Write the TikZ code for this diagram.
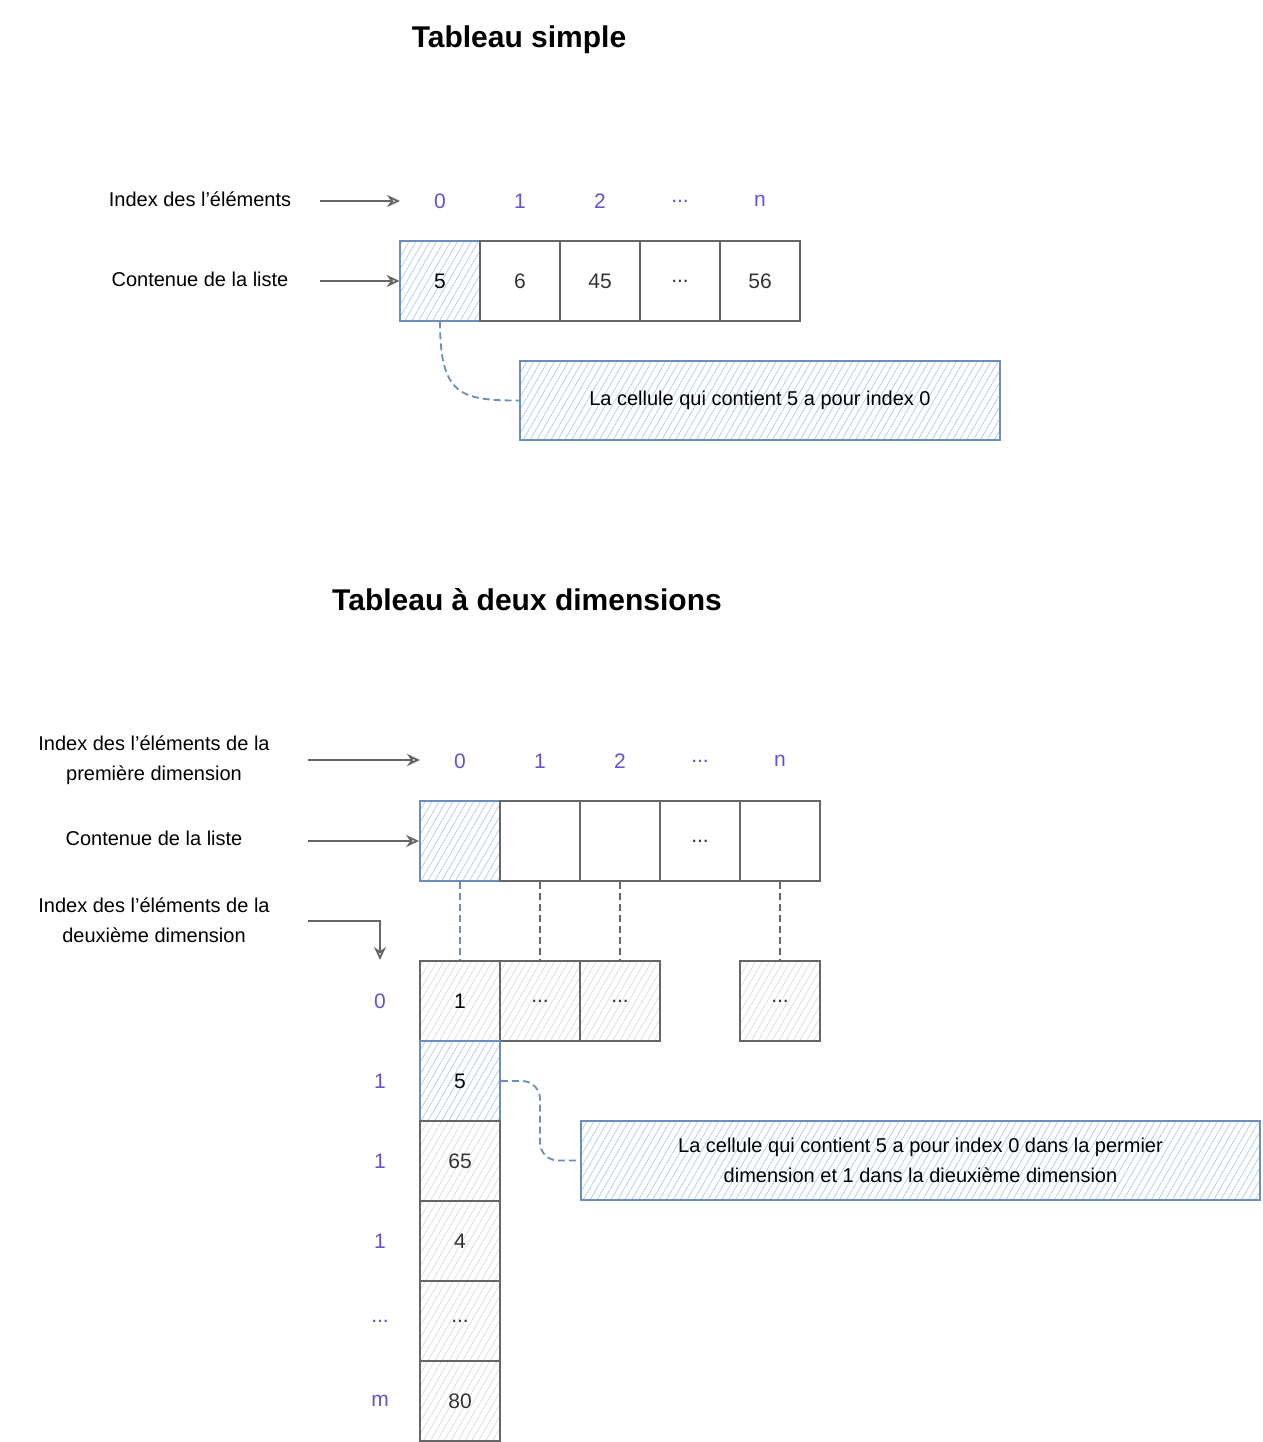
\documentclass[tikz,border=0pt]{standalone}
\usepackage{fontspec}
\setmainfont{Liberation Sans}
\usetikzlibrary{patterns.meta,arrows.meta,positioning}
\definecolor{strk}{HTML}{666666}
\definecolor{bstrk}{HTML}{6C8EBF}
\definecolor{bfill}{HTML}{B4CDF0}
\definecolor{gfill}{HTML}{DEDEDE}
\definecolor{idx}{HTML}{6A4FD0}
\definecolor{celltxt}{HTML}{333333}
\tikzset{
  cellbox/.style={draw=strk, line width=1.8pt, minimum width=80pt, minimum height=80pt, inner sep=0pt, text=celltxt, font=\fontsize{21}{24}\selectfont},
  bluecell/.style={cellbox, draw=bstrk, text=black, pattern={Lines[angle=60,distance=6pt,line width=0.8pt]}, pattern color=bfill},
  greycell/.style={cellbox, pattern={Lines[angle=60,distance=6pt,line width=0.8pt]}, pattern color=gfill},
  idxlabel/.style={text=idx, font=\fontsize{21}{24}\selectfont},
  sidelabel/.style={align=center, text=black, font=\fontsize{20}{30}\selectfont},
  titlelabel/.style={font=\bfseries\fontsize{30}{34}\selectfont},
  note/.style={draw=bstrk, line width=1.8pt, pattern={Lines[angle=60,distance=6pt,line width=0.8pt]}, pattern color=bfill, align=center, inner sep=0pt, font=\fontsize{20}{30}\selectfont},
  arr/.style={draw=strk, line width=1.8pt, -{Stealth[open,length=13pt,width=12pt]}},
  blink/.style={draw=bstrk, line width=1.8pt, dashed, dash pattern=on 7pt off 4pt},
  glink/.style={draw=strk, line width=1.8pt, dashed, dash pattern=on 7pt off 4pt},
}
\begin{document}
\begin{tikzpicture}[x=1pt,y=-1pt]
\useasboundingbox (0,0) rectangle (1262,1442);

% ---------- Tableau simple ----------
\node[titlelabel] (t1) at (519,40) {Tableau simple};

\node[sidelabel] (l1) at (200,199) {Index des l'éléments};
\node[sidelabel] (l2) at (200,279) {Contenue de la liste};

\node[bluecell] (a0) at (440,281) {5};
\node[cellbox] (a1) at (520,281) {6};
\node[cellbox] (a2) at (600,281) {45};
\node[cellbox] (a3) at (680,281) {...};
\node[cellbox] (a4) at (760,281) {56};

\node[idxlabel] (i0) at (440,201) {0};
\node[idxlabel] (i1) at (520,201) {1};
\node[idxlabel] (i2) at (600,201) {2};
\node[idxlabel] (i3) at (680,201) {...};
\node[idxlabel] (i4) at (760,201) {n};

\coordinate (s1) at (320,201);
\coordinate (e1) at (400,201);
\coordinate (s2) at (320,281);
\draw[arr] (s1) -- (e1);
\draw[arr] (s2) -- (a0.west);

\node[note, minimum width=480pt, minimum height=79pt] (n1) at (760,400.5) {La cellule qui contient 5 a pour index 0};
\draw[blink] (a0.south) .. controls (440,395) and (460,400.5) .. (n1.west);

% ---------- Tableau à deux dimensions ----------
\node[titlelabel] (t2) at (527,600) {Tableau à deux dimensions};

\node[sidelabel] (m1) at (154,760) {Index des l'éléments de la\\première dimension};
\node[sidelabel] (m2) at (154,838) {Contenue de la liste};
\node[sidelabel] (m3) at (154,920) {Index des l'éléments de la\\deuxième dimension};

\node[bluecell] (b0) at (460,841) {};
\node[cellbox] (b1) at (540,841) {};
\node[cellbox] (b2) at (620,841) {};
\node[cellbox] (b3) at (700,841) {...};
\node[cellbox] (b4) at (780,841) {};

\node[idxlabel] (j0) at (460,761) {0};
\node[idxlabel] (j1) at (540,761) {1};
\node[idxlabel] (j2) at (620,761) {2};
\node[idxlabel] (j3) at (700,761) {...};
\node[idxlabel] (j4) at (780,761) {n};

\coordinate (s3) at (308,760);
\coordinate (e3) at (420,760);
\coordinate (s4) at (308,841);
\coordinate (s5) at (308,921);
\coordinate (e5) at (380,960);
\draw[arr] (s3) -- (e3);
\draw[arr] (s4) -- (b0.west);
\draw[arr] (s5) -| (e5);

% second dimension
\node[greycell, text=black] (c0) at (460,1001) {1};
\node[greycell] (c1) at (540,1001) {...};
\node[greycell] (c2) at (620,1001) {...};
\node[greycell] (c4) at (780,1001) {...};

\draw[blink] (b0.south) -- (c0.north);
\draw[glink] (b1.south) -- (c1.north);
\draw[glink] (b2.south) -- (c2.north);
\draw[glink] (b4.south) -- (c4.north);

\node[bluecell] (d1) at (460,1081) {5};
\node[greycell] (d2) at (460,1161) {65};
\node[greycell] (d3) at (460,1241) {4};
\node[greycell] (d4) at (460,1321) {...};
\node[greycell] (d5) at (460,1401) {80};

\node[idxlabel] (k0) at (380,1001) {0};
\node[idxlabel] (k1) at (380,1081) {1};
\node[idxlabel] (k2) at (380,1161) {1};
\node[idxlabel] (k3) at (380,1241) {1};
\node[idxlabel] (k4) at (380,1321) {...};
\node[idxlabel] (k5) at (380,1401) {m};

\node[note, minimum width=679pt, minimum height=79pt] (n2) at (920.5,1160.5) {La cellule qui contient 5 a pour index 0 dans la permier\\dimension et 1 dans la dieuxième dimension};
\draw[blink, rounded corners=18pt] (d1.east) -- (540,1081) -- (540,1160.5) -- (n2.west);

\end{tikzpicture}
\end{document}
